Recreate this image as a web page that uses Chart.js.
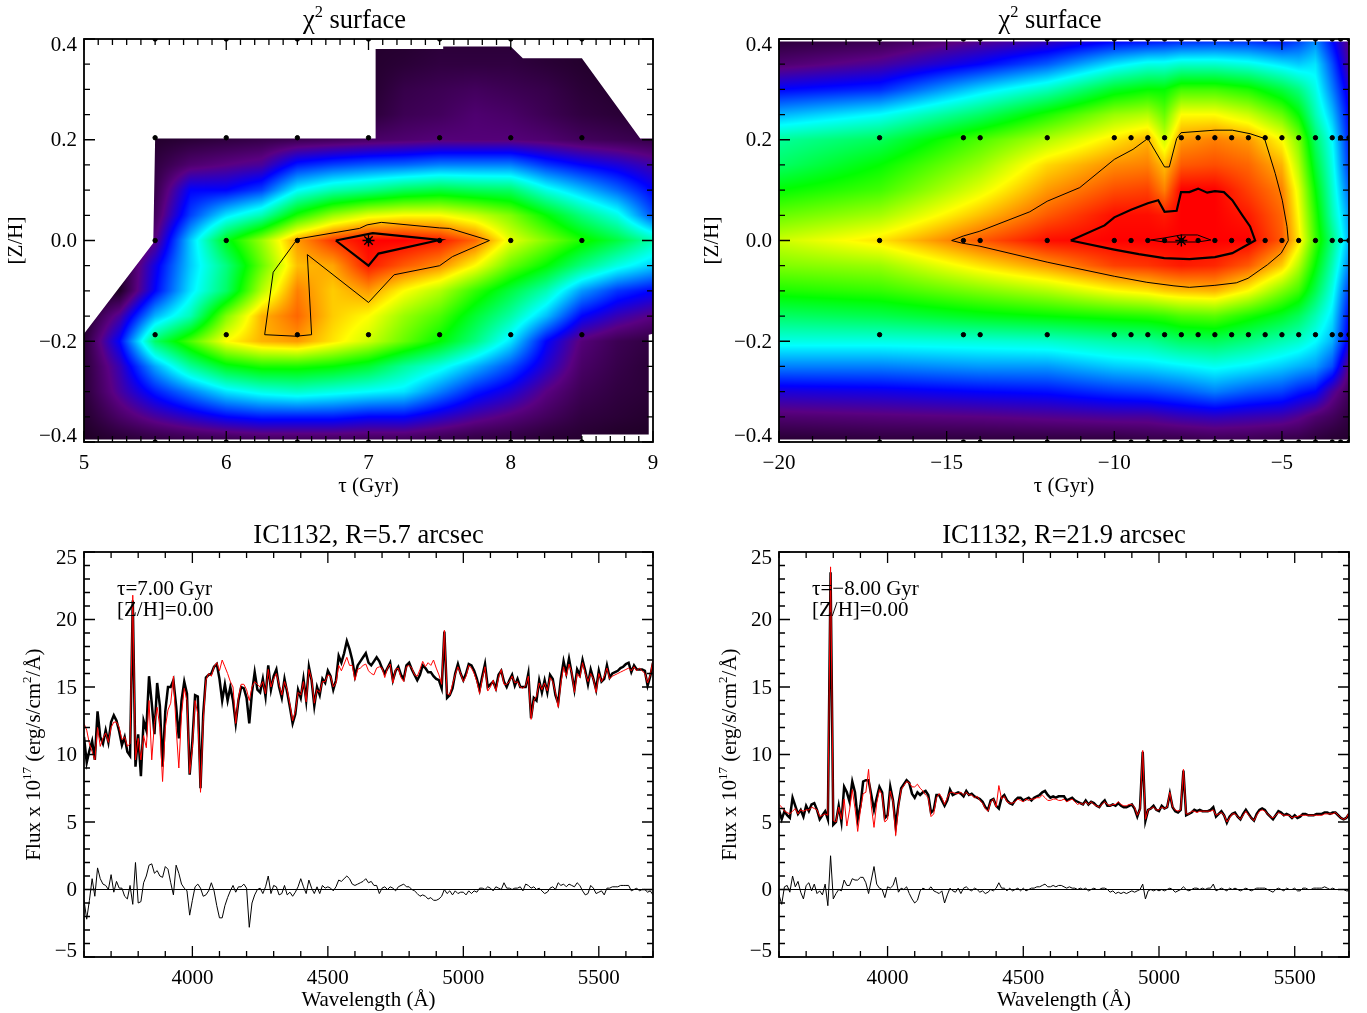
<!DOCTYPE html>
<html>
<head>
<meta charset="utf-8">
<title>IC1132 chi2 surfaces and spectra</title>
<script src="https://cdn.jsdelivr.net/npm/chart.js@4"></script>
<style>
    html, body { margin: 0; padding: 0; background: #fff; }
    canvas { position: absolute; }
</style>
</head>
<body>
<canvas id="chiLeft" width="696" height="499" style="left:0;top:0"></canvas>
<canvas id="chiRight" width="671" height="499" style="left:696px;top:0"></canvas>
<canvas id="specLeft" width="696" height="507" style="left:0;top:506px"></canvas>
<canvas id="specRight" width="671" height="507" style="left:696px;top:506px"></canvas>
<script>
// ........................... chi2 surface, left panel ...........................
const zhRows = [0.4, 0.35, 0.3, 0.25, 0.2, 0.15, 0.1, 0.05, 0, -0.05, -0.1, -0.15, -0.2, -0.25, -0.3, -0.35, -0.4];
const tauLeft = [5, 5.25, 5.5, 5.75, 6, 6.25, 6.5, 6.75, 7, 7.25, 7.5, 7.75, 8, 8.25, 8.5, 8.75, 9];
// one row per zhRows entry, one value per tauLeft entry
const surfaceLeft = [
    [0, 0, 0, 0, 0, 0, 0, 0, 0.01, 0.01, 0.02, 0.02, 0.02, 0.01, 0.01, 0, 0],
    [0, 0, 0, 0, 0, 0, 0, 0, 0.01, 0.02, 0.03, 0.03, 0.03, 0.02, 0.01, 0, 0],
    [0, 0, 0, 0, 0, 0, 0, 0, 0.01, 0.04, 0.05, 0.06, 0.05, 0.04, 0.02, 0.01, 0],
    [0, 0, 0, 0, 0, 0, 0, 0, 0.02, 0.05, 0.06, 0.08, 0.07, 0.05, 0.03, 0.02, 0.01],
    [0, 0, 0.01, 0.02, 0.03, 0.04, 0.05, 0.06, 0.07, 0.08, 0.09, 0.09, 0.09, 0.08, 0.06, 0.05, 0.04],
    [0, 0, 0.03, 0.08, 0.1, 0.12, 0.22, 0.25, 0.27, 0.28, 0.3, 0.3, 0.3, 0.24, 0.2, 0.17, 0.13],
    [0, 0, 0.04, 0.2, 0.2, 0.25, 0.4, 0.46, 0.49, 0.53, 0.55, 0.53, 0.52, 0.42, 0.35, 0.28, 0.2],
    [0, 0, 0.06, 0.25, 0.38, 0.46, 0.62, 0.72, 0.78, 0.8, 0.8, 0.76, 0.7, 0.6, 0.5, 0.42, 0.26],
    [0, 0, 0.1, 0.36, 0.58, 0.72, 0.88, 0.96, 1, 1, 0.98, 0.92, 0.78, 0.7, 0.62, 0.55, 0.46],
    [0, 0, 0.18, 0.36, 0.5, 0.68, 0.85, 0.87, 0.98, 0.93, 0.89, 0.8, 0.68, 0.6, 0.5, 0.42, 0.36],
    [0, 0, 0.2, 0.38, 0.52, 0.74, 0.9, 0.84, 0.88, 0.8, 0.74, 0.64, 0.55, 0.46, 0.32, 0.24, 0.2],
    [0, 0.12, 0.34, 0.46, 0.7, 0.86, 0.92, 0.84, 0.8, 0.72, 0.66, 0.56, 0.47, 0.35, 0.2, 0.14, 0.1],
    [0.02, 0.2, 0.52, 0.66, 0.8, 0.86, 0.88, 0.82, 0.76, 0.68, 0.6, 0.5, 0.38, 0.2, 0.09, 0.05, 0.03],
    [0.02, 0.14, 0.33, 0.48, 0.58, 0.62, 0.62, 0.6, 0.56, 0.48, 0.42, 0.34, 0.26, 0.16, 0.07, 0.04, 0.02],
    [0.02, 0.12, 0.22, 0.3, 0.38, 0.42, 0.44, 0.42, 0.4, 0.38, 0.3, 0.22, 0.17, 0.1, 0.05, 0.03, 0.02],
    [0.01, 0.07, 0.12, 0.16, 0.2, 0.22, 0.22, 0.22, 0.2, 0.2, 0.16, 0.12, 0.09, 0.06, 0.03, 0.02, 0.01],
    [0, 0.01, 0.02, 0.03, 0.03, 0.04, 0.04, 0.04, 0.04, 0.04, 0.03, 0.02, 0.02, 0.01, 0.01, 0, 0]
];
// outline of the area that has models
const maskLeftTau = [7.05, 7.525, 7.525, 8, 8.085, 8.5, 8.91, 9, 9, 8.97, 8.97, 8.5, 8.5, 5, 5, 5.487, 5.5, 7.05];
const maskLeftZh = [0.38, 0.38, 0.385, 0.385, 0.362, 0.362, 0.2025, 0.2025, -0.185, -0.187, -0.385, -0.385, -0.395, -0.395, -0.185, -0.005, 0.2025, 0.2025];
const gridTauLeft = [5.5, 6, 6.5, 7, 7.5, 8, 8.5];
const gridZhLeft = [0.4, 0.204, 0, -0.187, -0.4];
const outerLeftTau = [6.5, 6.937, 6.99, 7.09, 7.5, 7.57, 7.85, 7.59, 7.5, 7.18, 7, 6.57, 6.6, 6.49, 6.27, 6.33, 6.5];
const outerLeftZh = [0.003, 0.024, 0.031, 0.036, 0.025, 0.024, 0, -0.032, -0.05, -0.068, -0.123, -0.028, -0.187, -0.19, -0.187, -0.063, 0.003];
const innerLeftTau = [6.77, 7.03, 7.5, 7.07, 7, 6.77];
const innerLeftZh = [0, 0.0145, 0.001, -0.026, -0.05, 0];
const bestLeft = [7, 0];

// ........................... chi2 surface, right panel ...........................
const tauRight = [-20, -17, -14, -12, -10, -9, -8.5, -8, -7, -6, -5, -4.5, -4, -3.5, -3];
// one column per tauRight entry, one value per zhRows entry
const surfaceRightCols = [
    [0.02, 0.08, 0.2, 0.34, 0.48, 0.52, 0.6, 0.68, 0.76, 0.7, 0.62, 0.52, 0.42, 0.3, 0.17, 0.08, 0.01],
    [0.04, 0.12, 0.23, 0.4, 0.53, 0.6, 0.65, 0.73, 0.82, 0.72, 0.64, 0.54, 0.42, 0.3, 0.18, 0.09, 0.02],
    [0.1, 0.2, 0.37, 0.52, 0.66, 0.72, 0.78, 0.85, 0.93, 0.82, 0.7, 0.58, 0.43, 0.32, 0.2, 0.1, 0.02],
    [0.13, 0.27, 0.45, 0.62, 0.74, 0.83, 0.88, 0.93, 0.99, 0.88, 0.74, 0.6, 0.44, 0.32, 0.21, 0.11, 0.02],
    [0.18, 0.38, 0.57, 0.72, 0.82, 0.89, 0.94, 0.99, 1, 0.95, 0.8, 0.62, 0.47, 0.36, 0.24, 0.12, 0.02],
    [0.19, 0.42, 0.6, 0.74, 0.86, 0.9, 0.95, 0.99, 1, 0.96, 0.82, 0.63, 0.48, 0.37, 0.25, 0.12, 0.03],
    [0.2, 0.42, 0.6, 0.68, 0.76, 0.85, 0.9, 0.98, 1, 0.97, 0.84, 0.64, 0.5, 0.38, 0.26, 0.13, 0.03],
    [0.21, 0.44, 0.65, 0.8, 0.88, 0.93, 1, 1, 1, 0.98, 0.85, 0.66, 0.52, 0.39, 0.27, 0.14, 0.03],
    [0.22, 0.44, 0.65, 0.8, 0.9, 0.94, 1, 1, 1, 0.97, 0.86, 0.67, 0.53, 0.41, 0.3, 0.15, 0.04],
    [0.22, 0.42, 0.62, 0.76, 0.88, 0.92, 0.95, 0.98, 1, 0.93, 0.8, 0.62, 0.5, 0.39, 0.27, 0.14, 0.04],
    [0.2, 0.38, 0.55, 0.68, 0.8, 0.86, 0.9, 0.92, 0.93, 0.84, 0.7, 0.57, 0.46, 0.36, 0.25, 0.13, 0.03],
    [0.24, 0.36, 0.5, 0.6, 0.7, 0.74, 0.78, 0.8, 0.82, 0.74, 0.65, 0.53, 0.44, 0.34, 0.22, 0.11, 0.03],
    [0.3, 0.38, 0.42, 0.46, 0.52, 0.56, 0.6, 0.63, 0.65, 0.6, 0.54, 0.46, 0.4, 0.32, 0.2, 0.08, 0.02],
    [0.2, 0.26, 0.3, 0.35, 0.4, 0.42, 0.44, 0.46, 0.5, 0.46, 0.42, 0.38, 0.34, 0.26, 0.12, 0.06, 0.01],
    [0.1, 0.12, 0.17, 0.2, 0.22, 0.24, 0.28, 0.32, 0.34, 0.3, 0.24, 0.2, 0.18, 0.1, 0.06, 0.03, 0.01]
];
const maskRightTau = [-20, -3, -3, -20, -20];
const maskRightZh = [0.395, 0.395, -0.395, -0.395, 0.395];
const gridTauRight = [-17, -14.5, -14, -12, -10, -9.5, -9, -8.5, -8, -7.5, -7, -6.5, -6, -5.5, -5, -4.5, -4, -3.5, -3.25, -3];
const gridZhRight = [0.4, 0.204, 0, -0.187, -0.4];
const outerRightTau = [-14.85, -14.5, -14.03, -12.52, -12, -11.03, -10, -9.44, -9, -8.5, -8.36, -8.14, -8.01, -7, -6.48, -5.95, -5.52, -5.2, -4.99, -4.85, -4.81, -5.02, -5.43, -6.01, -6.36, -7, -7.76, -8.22, -9.03, -10, -12, -14.03, -14.56, -14.85];
const outerRightZh = [0, 0.009, 0.018, 0.057, 0.078, 0.105, 0.161, 0.181, 0.2025, 0.146, 0.146, 0.2025, 0.214, 0.219, 0.219, 0.212, 0.2025, 0.133, 0.08, 0.028, 0, -0.025, -0.048, -0.075, -0.084, -0.089, -0.093, -0.09, -0.083, -0.071, -0.043, -0.011, -0.005, 0];
const innerRightTau = [-11.3, -10.29, -10, -9.5, -9, -8.69, -8.5, -8.14, -8.01, -7.76, -7.5, -7.23, -7, -6.73, -6.48, -6.19, -5.95, -5.8, -6.48, -7, -7.76, -8.51, -9.27, -10, -11.3];
const innerRightZh = [0, 0.03, 0.046, 0.061, 0.074, 0.08, 0.057, 0.059, 0.096, 0.096, 0.103, 0.095, 0.098, 0.096, 0.08, 0.051, 0.028, 0, -0.025, -0.033, -0.037, -0.035, -0.027, -0.018, 0];
const coreRightTau = [-8.92, -8.51, -8.01, -7.52, -7.12, -7.52, -8.51, -8.92];
const coreRightZh = [0.001, 0.005, 0.011, 0.011, 0.001, -0.003, -0.003, 0.001];
const bestRight = [-8, 0];

// ........................... tick labels ...........................
const tauTicksLeft = [5, 6, 7, 8, 9];
const tauTicksRight = [-20, -15, -10, -5];
const zhTicks = [-0.4, -0.2, 0, 0.2, 0.4];
const waveTicks = [4000, 4500, 5000, 5500];
const fluxTicks = [-5, 0, 5, 10, 15, 20, 25];

// ........................... spectra, one line per 100 A ...........................
const wavelength = [
    3600, 3610, 3620, 3630, 3640, 3650, 3660, 3670, 3680, 3690,
    3700, 3710, 3720, 3730, 3740, 3750, 3760, 3770, 3780, 3790,
    3800, 3810, 3820, 3830, 3840, 3850, 3860, 3870, 3880, 3890,
    3900, 3910, 3920, 3930, 3940, 3950, 3960, 3970, 3980, 3990,
    4000, 4010, 4020, 4030, 4040, 4050, 4060, 4070, 4080, 4090,
    4100, 4110, 4120, 4130, 4140, 4150, 4160, 4170, 4180, 4190,
    4200, 4210, 4220, 4230, 4240, 4250, 4260, 4270, 4280, 4290,
    4300, 4310, 4320, 4330, 4340, 4350, 4360, 4370, 4380, 4390,
    4400, 4410, 4420, 4430, 4440, 4450, 4460, 4470, 4480, 4490,
    4500, 4510, 4520, 4530, 4540, 4550, 4560, 4570, 4580, 4590,
    4600, 4610, 4620, 4630, 4640, 4650, 4660, 4670, 4680, 4690,
    4700, 4710, 4720, 4730, 4740, 4750, 4760, 4770, 4780, 4790,
    4800, 4810, 4820, 4830, 4840, 4850, 4860, 4870, 4880, 4890,
    4900, 4910, 4920, 4930, 4940, 4950, 4960, 4970, 4980, 4990,
    5000, 5010, 5020, 5030, 5040, 5050, 5060, 5070, 5080, 5090,
    5100, 5110, 5120, 5130, 5140, 5150, 5160, 5170, 5180, 5190,
    5200, 5210, 5220, 5230, 5240, 5250, 5260, 5270, 5280, 5290,
    5300, 5310, 5320, 5330, 5340, 5350, 5360, 5370, 5380, 5390,
    5400, 5410, 5420, 5430, 5440, 5450, 5460, 5470, 5480, 5490,
    5500, 5510, 5520, 5530, 5540, 5550, 5560, 5570, 5580, 5590,
    5600, 5610, 5620, 5630, 5640, 5650, 5660, 5670, 5680, 5690,
    5700
];
const observedLeft = [
    11.3, 9.4, 10.3, 11.0, 9.6, 13.2, 11.3, 10.8, 11.8, 10.9,
    12.4, 12.9, 12.5, 11.7, 10.7, 11.3, 10.2, 9.9, 21.4, 9.1,
    11.5, 8.4, 12.5, 11.8, 15.8, 13.8, 11.5, 15.3, 13.6, 9.1,
    13.2, 15.0, 15.0, 15.5, 13.6, 11.2, 14.0, 15.4, 14.5, 8.5,
    11.0, 14.4, 14.3, 7.5, 13.0, 15.7, 15.9, 16.0, 16.5, 16.7,
    15.6, 14.0, 15.2, 14.0, 15.0, 14.0, 12.3, 14.0, 15.0, 14.9,
    14.2, 12.3, 14.6, 16.1, 14.8, 14.6, 15.6, 14.3, 16.6, 14.8,
    15.8, 16.3, 15.0, 14.2, 15.6, 14.6, 13.5, 12.3, 13.0, 14.8,
    14.2, 15.6, 14.0, 16.5, 15.5, 13.6, 15.0, 14.4, 15.6, 15.3,
    16.2, 15.8, 14.8, 15.5, 17.3, 16.8, 17.5, 18.4, 17.8, 17.0,
    15.8, 16.6, 16.9, 17.2, 17.5, 16.8, 16.6, 16.9, 17.2, 16.9,
    16.4, 16.0, 16.4, 16.8, 15.5, 16.2, 16.5, 15.9, 15.6, 16.6,
    16.8, 16.3, 15.9, 15.5, 15.9, 16.6, 16.4, 16.1, 16.1, 15.8,
    15.6, 15.5, 14.9, 19.1, 14.2, 14.4, 14.9, 16.0, 16.7, 16.0,
    15.5, 16.0, 16.7, 16.6, 16.2, 15.6, 14.8, 15.8, 16.7, 15.0,
    15.2, 15.4, 14.9, 15.9, 16.2, 15.4, 15.0, 15.5, 15.9, 15.1,
    15.6, 15.0, 15.0, 15.0, 16.0, 12.7, 14.2, 14.0, 15.5, 14.6,
    15.5, 14.6, 15.9, 15.6, 14.4, 13.8, 15.6, 16.9, 16.0, 17.1,
    16.0, 14.8, 16.3, 15.9, 17.0, 16.2, 15.2, 16.3, 15.6, 14.8,
    16.2, 15.4, 15.6, 16.6, 15.7, 16.0, 16.1, 16.2, 16.4, 16.5,
    16.7, 16.8, 16.1, 16.6, 16.3, 16.3, 16.3, 16.2, 15.1, 15.8,
    16.8
];
const modelLeft = [
    12.3, 11.8, 10.8, 10.2, 9.6, 12.0, 10.6, 11.2, 11.6, 10.9,
    12.0, 12.4, 12.4, 12.0, 11.1, 11.3, 10.6, 10.8, 21.8, 9.6,
    11.2, 9.6, 11.4, 10.5, 14.0, 9.6, 12.3, 13.5, 12.0, 8.0,
    12.0, 13.3, 13.8, 15.8, 12.0, 9.0, 13.0, 14.9, 14.0, 8.6,
    10.5, 14.0, 13.0, 7.2, 12.5, 15.5, 16.0, 15.8, 16.5, 16.8,
    16.2, 17.0, 16.5, 16.0, 15.4, 15.0, 12.3, 14.2, 15.2, 15.2,
    14.8, 14.0, 15.0, 15.4, 15.2, 15.0, 15.4, 14.5, 16.3, 15.0,
    15.6, 16.0, 15.2, 14.4, 15.4, 14.8, 13.7, 12.5, 13.2, 14.6,
    14.4, 15.4, 13.9, 16.3, 15.6, 13.8, 14.8, 14.6, 15.4, 15.4,
    15.9, 15.8, 15.0, 15.3, 16.6, 16.2, 16.7, 17.2, 16.6, 16.6,
    15.5, 16.3, 16.4, 16.6, 16.7, 16.2, 16.0, 15.9, 16.4, 16.5,
    16.4, 15.7, 16.4, 16.7, 15.3, 16.3, 16.4, 15.7, 15.4, 16.5,
    16.6, 16.4, 15.9, 15.8, 16.3, 16.9, 16.5, 16.8, 16.6, 17.0,
    16.4, 15.9, 15.2, 19.2, 14.5, 14.4, 15.2, 15.9, 16.5, 16.0,
    15.4, 15.8, 16.6, 16.4, 16.0, 15.4, 14.5, 15.6, 16.5, 14.7,
    15.0, 15.5, 14.7, 15.7, 16.3, 15.2, 15.2, 15.4, 15.8, 15.3,
    15.4, 15.0, 14.9, 15.1, 15.8, 12.6, 14.0, 14.3, 15.3, 14.8,
    15.3, 14.7, 15.7, 15.4, 14.6, 13.5, 15.3, 16.5, 15.8, 16.7,
    16.1, 14.6, 16.0, 15.7, 16.8, 16.0, 15.4, 16.0, 15.6, 14.6,
    16.0, 15.4, 15.8, 16.4, 15.6, 15.8, 15.9, 16.0, 16.1, 16.2,
    16.3, 16.4, 16.2, 16.5, 16.2, 16.4, 16.2, 16.0, 15.3, 15.9,
    17.0
];
const residualLeft = [
    -0.8, -2.2, -0.8, 0.8, -0.5, 1.6, 0.8, 0.4, 0.3, 0.0,
    1.1, -0.2, 0.6, 0.1, 0.1, -0.5, -0.7, 0.3, -1.1, 2.0,
    -1.0, -0.9, 0.5, 1.0, 1.8, 1.9, 1.2, 1.4, 1.0, 0.9,
    1.7, 1.5, 0.5, -0.4, 1.8, 1.2, 0.4, 0.1, -0.1, -1.9,
    -0.8, 0.2, 0.4, 0.1, -0.5, -0.4, -0.1, 0.5, -0.1, -1.2,
    -2.1, -2.1, -1.2, -0.6, -0.1, 0.3, -0.2, 0.2, 0.2, 0.4,
    0.1, -2.8, -1.0, -0.4, 0.0, 0.1, -0.3, 0.2, 1.0, -0.3,
    0.3, 0.2, -0.4, -0.3, 0.3, -0.4, -0.2, -0.5, -0.2, 0.2,
    0.8, 0.2, -0.3, 0.7, 0.1, -0.3, 0.2, -0.3, 0.3, 0.1,
    0.2, 0.1, -0.1, 0.2, 0.7, 0.6, 0.8, 1.0, 0.8, 0.4,
    0.3, 0.4, 0.5, 0.6, 0.8, 0.5, 0.6, 0.3, 0.3, -0.3,
    0.1, 0.2, 0.0, 0.2, 0.1, -0.1, 0.2, 0.3, 0.4, 0.2,
    0.2, 0.0, -0.1, -0.3, -0.5, -0.4, -0.5, -0.7, -0.6, -0.8,
    -0.8, -0.7, -0.5, 0.0, -0.3, -0.1, -0.4, -0.1, -0.3, -0.2,
    -0.2, -0.4, -0.1, -0.3, -0.1, -0.2, 0.1, 0.1, 0.0, 0.2,
    0.1, -0.1, 0.2, 0.1, 0.0, 0.5, 0.1, 0.1, 0.0, 0.1,
    0.1, 0.2, -0.1, 0.4, 0.3, 0.1, 0.2, 0.0, 0.1, -0.1,
    -0.3, -0.2, 0.1, 0.2, 0.0, 0.5, 0.3, 0.4, 0.2, 0.4,
    0.3, 0.2, 0.5, 0.3, -0.1, -0.4, -0.3, 0.3, 0.1, -0.3,
    -0.2, -0.1, -0.4, 0.1, 0.1, 0.2, 0.2, 0.2, 0.3, 0.3,
    0.3, 0.3, -0.1, 0.0, 0.1, -0.1, 0.0, 0.0, -0.2, -0.1,
    -0.4
];
const observedRight = [
    5.9, 5.2, 5.8, 5.5, 5.3, 6.8, 6.2, 5.6, 5.9, 5.4,
    6.2, 5.8, 6.3, 6.4, 5.9, 5.2, 5.5, 5.8, 5.2, 23.5,
    4.8, 5.0, 6.2, 5.0, 7.6, 7.2, 6.5, 8.0, 7.2, 5.2,
    6.2, 8.0, 8.1, 8.1, 7.0, 5.9, 6.8, 7.6, 7.2, 5.3,
    5.5, 7.6, 6.6, 4.7, 6.3, 7.5, 7.8, 8.1, 7.9, 7.1,
    6.8, 7.2, 7.0, 7.2, 7.3, 7.0, 5.7, 5.9, 7.0, 7.0,
    6.6, 6.2, 6.6, 7.4, 7.0, 7.1, 7.2, 7.1, 6.9, 7.3,
    7.0, 7.1, 6.9, 6.8, 6.7, 6.5, 6.1, 5.9, 6.6, 6.7,
    6.2, 6.0, 6.8, 7.0, 6.6, 6.4, 6.3, 6.6, 6.8, 6.8,
    6.6, 6.7, 6.8, 6.6, 6.8, 6.9, 7.0, 7.2, 7.3, 7.0,
    6.8, 6.9, 6.8, 6.9, 6.9, 6.9, 6.6, 6.7, 6.8, 6.6,
    6.5, 6.4, 6.3, 6.6, 6.3, 6.5, 6.4, 6.2, 6.1, 6.4,
    6.6, 6.2, 6.2, 6.3, 6.2, 6.4, 6.2, 6.1, 6.1, 6.2,
    6.3, 6.0, 5.4, 6.0, 10.2, 5.1, 5.9, 6.0, 6.2, 5.9,
    5.8, 6.2, 6.0, 6.1, 7.1, 6.1, 5.8, 5.7, 5.9, 8.8,
    5.5, 5.6, 5.7, 5.9, 5.8, 5.9, 5.8, 5.8, 5.8, 5.9,
    6.1, 5.4, 5.6, 5.8, 5.5, 4.95, 5.4, 5.6, 5.7, 5.4,
    5.2, 5.6, 5.9, 5.6, 5.3, 5.1, 5.6, 5.9, 6.0, 5.9,
    5.6, 5.4, 5.2, 5.5, 5.8, 5.7, 5.5, 5.6, 5.5, 5.3,
    5.5, 5.3, 5.4, 5.6, 5.6, 5.5, 5.5, 5.5, 5.6, 5.6,
    5.6, 5.7, 5.7, 5.6, 5.7, 5.7, 5.5, 5.3, 5.2, 5.3,
    5.6
];
const modelRight = [
    6.3, 6.1, 5.8, 5.7, 5.6, 5.8, 6.0, 5.6, 5.9, 5.8,
    5.9, 5.9, 6.1, 6.0, 5.9, 5.4, 5.5, 5.6, 5.5, 23.9,
    5.1, 5.0, 6.1, 5.2, 6.7, 4.7, 5.9, 7.4, 6.0, 4.3,
    5.9, 7.1, 7.2, 8.9, 6.2, 4.6, 6.4, 7.4, 7.0, 5.0,
    5.2, 7.3, 6.5, 4.0, 6.1, 7.4, 7.7, 8.0, 7.9, 7.6,
    7.6, 7.8, 7.5, 7.3, 7.0, 6.8, 5.4, 5.6, 6.8, 7.1,
    6.8, 6.3, 6.8, 7.2, 7.2, 7.1, 7.1, 7.2, 7.0, 7.2,
    7.0, 7.0, 6.8, 6.9, 6.6, 6.4, 6.0, 5.8, 6.5, 6.7,
    6.1, 7.7, 6.7, 6.9, 6.5, 6.4, 6.4, 6.5, 6.7, 6.6,
    6.5, 6.7, 6.6, 6.7, 6.7, 6.8, 6.8, 7.0, 6.8, 6.6,
    6.6, 6.7, 6.7, 6.6, 6.6, 6.7, 6.5, 6.6, 6.7, 6.5,
    6.3, 6.4, 6.3, 6.5, 6.3, 6.5, 6.3, 6.2, 6.1, 6.3,
    6.5, 6.3, 6.2, 6.3, 6.3, 6.5, 6.3, 6.2, 6.2, 6.3,
    6.3, 6.1, 5.5, 5.9, 10.3, 5.2, 5.9, 6.0, 6.1, 5.9,
    5.9, 6.1, 6.0, 6.1, 7.2, 6.1, 5.9, 5.8, 5.9, 8.9,
    5.6, 5.6, 5.8, 5.8, 5.7, 5.8, 5.8, 5.8, 5.8, 5.8,
    5.9, 5.5, 5.6, 5.7, 5.5, 5.0, 5.3, 5.6, 5.6, 5.4,
    5.2, 5.5, 5.8, 5.5, 5.3, 5.1, 5.5, 5.8, 5.9, 5.8,
    5.6, 5.4, 5.3, 5.5, 5.7, 5.6, 5.5, 5.5, 5.5, 5.3,
    5.4, 5.4, 5.5, 5.5, 5.5, 5.5, 5.5, 5.5, 5.5, 5.5,
    5.5, 5.6, 5.6, 5.6, 5.6, 5.7, 5.5, 5.3, 5.2, 5.3,
    5.7
];
const residualRight = [
    -0.4, -1.1, 0.2, 0.3, -0.2, 1.0, 0.2, 0.6, -0.2, -0.7,
    0.3, 0.5, -0.1, 0.4, -0.3, -0.1, -0.4, 0.4, -1.2, 2.5,
    -0.7, -0.3, 0.0, -0.1, 0.7, 0.3, 0.3, 0.8, 0.7, 0.7,
    0.9, 0.9, 0.5, -0.3, 0.7, 1.7, 0.4, 0.1, 0.0, -0.6,
    0.2, 0.1, 0.3, 0.9, -0.2, 0.1, 0.0, 0.2, -0.3, -0.7,
    -1.0, -0.8, -0.1, 0.1, 0.0, 0.0, 0.2, -0.1, -0.2, -0.3,
    -0.1, -1.0, -0.4, 0.1, -0.1, -0.2, 0.1, -0.3, 0.1, 0.2,
    0.0, -0.1, 0.1, 0.0, -0.2, -0.1, -0.3, -0.2, 0.0, -0.1,
    0.1, 0.5, 0.1, 0.1, -0.1, 0.1, -0.1, 0.0, 0.1, -0.1,
    0.1, -0.1, 0.0, 0.1, 0.1, 0.2, 0.2, 0.3, 0.4, 0.2,
    0.2, 0.3, 0.2, 0.3, 0.3, 0.2, 0.1, 0.2, 0.1, 0.1,
    0.0, 0.1, 0.0, 0.1, -0.1, 0.0, 0.1, 0.0, 0.0, 0.1,
    0.1, 0.0, -0.2, -0.1, -0.3, -0.2, -0.3, -0.2, -0.3, -0.2,
    -0.1, -0.2, -0.1, 0.0, 0.4, -0.7, -0.1, 0.0, -0.1, 0.0,
    -0.1, 0.0, -0.1, 0.0, 0.1, 0.0, -0.2, -0.1, 0.0, 0.2,
    0.0, -0.1, 0.0, 0.1, 0.1, 0.0, 0.1, 0.0, 0.1, 0.1,
    0.4, -0.1, 0.0, 0.1, 0.0, -0.1, 0.1, 0.0, 0.1, 0.0,
    -0.1, 0.0, 0.1, 0.0, -0.1, 0.0, 0.1, 0.1, 0.1, 0.1,
    0.0, -0.1, -0.2, 0.0, 0.1, 0.0, -0.1, 0.1, 0.0, 0.0,
    0.1, -0.1, -0.1, 0.1, 0.1, 0.0, 0.0, 0.1, 0.1, 0.1,
    0.1, 0.2, 0.1, 0.0, 0.1, 0.0, 0.0, 0.0, 0.0, -0.1,
    -0.1
];
const zeroLineX = [3600, 5700];
const zeroLineY = [0, 0];

const FONT = "'Liberation Serif', serif";
// colour stops of the surface, value -> rgb
const colourStops = [
    [0, 30, 0, 36], [0.1, 90, 0, 130], [0.2, 0, 0, 255], [0.4, 0, 255, 255],
    [0.6, 0, 255, 0], [0.8, 255, 255, 0], [1, 255, 0, 0]
];

function colourOf(v) {
    for (let i = 1; i < colourStops.length; i++) {
        if (v <= colourStops[i][0]) {
            const a = colourStops[i - 1], b = colourStops[i];
            const t = (v - a[0]) / (b[0] - a[0]);
            return [a[1] + (b[1] - a[1]) * t, a[2] + (b[2] - a[2]) * t, a[3] + (b[3] - a[3]) * t];
        }
    }
    return colourStops[colourStops.length - 1].slice(1);
}

function pairs(xs, ys) {
    return xs.map(function (x, i) { return { x: x, y: ys[i] }; });
}

function cross(xs, ys) {
    const out = [];
    ys.forEach(function (y) { xs.forEach(function (x) { out.push({ x: x, y: y }); }); });
    return out;
}

function bracket(list, v, descending) {
    let i = 0;
    while (i < list.length - 2 && (descending ? list[i + 1] > v : list[i + 1] < v)) i++;
    const t = (v - list[i]) / (list[i + 1] - list[i]);
    return [i, Math.max(0, Math.min(1, t))];
}

// paints the surface under the datasets, through the chart's own scales
function surfacePlugin(xs, ys, rows, maskX, maskY) {
    return {
        id: 'surface',
        beforeDatasetsDraw: function (chart) {
            const area = chart.chartArea, sx = chart.scales.x, sy = chart.scales.y;
            const w = Math.round(area.right - area.left), h = Math.round(area.bottom - area.top);
            const off = document.createElement('canvas');
            off.width = w; off.height = h;
            const octx = off.getContext('2d');
            const img = octx.createImageData(w, h);
            for (let py = 0; py < h; py++) {
                const b = bracket(ys, sy.getValueForPixel(area.top + py + 0.5), true);
                for (let px = 0; px < w; px++) {
                    const a = bracket(xs, sx.getValueForPixel(area.left + px + 0.5), false);
                    const r0 = rows[b[0]], r1 = rows[b[0] + 1];
                    const top = r0[a[0]] + (r0[a[0] + 1] - r0[a[0]]) * a[1];
                    const bot = r1[a[0]] + (r1[a[0] + 1] - r1[a[0]]) * a[1];
                    const c = colourOf(top + (bot - top) * b[1]);
                    const k = (py * w + px) * 4;
                    img.data[k] = c[0]; img.data[k + 1] = c[1]; img.data[k + 2] = c[2]; img.data[k + 3] = 255;
                }
            }
            octx.putImageData(img, 0, 0);
            const ctx = chart.ctx;
            ctx.save();
            ctx.beginPath();
            maskX.forEach(function (x, i) {
                const X = sx.getPixelForValue(x), Y = sy.getPixelForValue(maskY[i]);
                if (i === 0) ctx.moveTo(X, Y); else ctx.lineTo(X, Y);
            });
            ctx.closePath();
            ctx.clip();
            ctx.drawImage(off, area.left, area.top);
            ctx.restore();
        }
    };
}

// text made of runs, so that superscripts can be raised
function drawRuns(ctx, runs, x, y, size, rotated, align) {
    ctx.save();
    ctx.translate(x, y);
    if (rotated) ctx.rotate(-Math.PI / 2);
    ctx.fillStyle = '#000';
    ctx.textBaseline = 'alphabetic';
    ctx.textAlign = 'left';
    let total = 0;
    runs.forEach(function (r) {
        ctx.font = (r.sup ? size * 0.62 : size) + 'px ' + FONT;
        total += ctx.measureText(r.t).width;
    });
    let at = align === 'left' ? 0 : -total / 2;
    const base = size * 0.34;
    runs.forEach(function (r) {
        ctx.font = (r.sup ? size * 0.62 : size) + 'px ' + FONT;
        ctx.fillText(r.t, at, r.sup ? base - size * 0.42 : base);
        at += ctx.measureText(r.t).width;
    });
    ctx.restore();
}

// IDL style box: frame, ticks pointing inward on all sides, shifted end labels, texts
function boxPlugin(cfg) {
    return {
        id: 'box',
        afterDatasetsDraw: function (chart) {
            const ctx = chart.ctx, area = chart.chartArea, sx = chart.scales.x, sy = chart.scales.y;
            ctx.save();
            ctx.strokeStyle = '#000';
            ctx.lineWidth = 1.3;
            ctx.beginPath();
            const isMajor = function (v, step) { return Math.abs(v / step - Math.round(v / step)) < 1e-6; };
            for (let n = Math.ceil(sx.min / cfg.xMinor - 1e-6); n * cfg.xMinor <= sx.max + 1e-6; n++) {
                const v = n * cfg.xMinor, p = sx.getPixelForValue(v), len = isMajor(v, cfg.xMajor) ? 11 : 6;
                ctx.moveTo(p, area.bottom); ctx.lineTo(p, area.bottom - len);
                ctx.moveTo(p, area.top); ctx.lineTo(p, area.top + len);
            }
            for (let n = Math.ceil(sy.min / cfg.yMinor - 1e-6); n * cfg.yMinor <= sy.max + 1e-6; n++) {
                const v = n * cfg.yMinor, p = sy.getPixelForValue(v), len = isMajor(v, cfg.yMajor) ? 11 : 6;
                ctx.moveTo(area.left, p); ctx.lineTo(area.left + len, p);
                ctx.moveTo(area.right, p); ctx.lineTo(area.right - len, p);
            }
            ctx.stroke();
            ctx.lineWidth = 1.8;
            ctx.strokeRect(area.left, area.top, area.right - area.left, area.bottom - area.top);

            // end labels sit inside the axis range
            ctx.fillStyle = '#000';
            ctx.font = '21px ' + FONT;
            ctx.textAlign = 'right';
            ctx.textBaseline = 'middle';
            ctx.fillText(cfg.yFormat(sy.max), area.left - 7, sy.getPixelForValue(sy.max) + 6);
            ctx.fillText(cfg.yFormat(sy.min), area.left - 7, sy.getPixelForValue(sy.min) - 6);
            ctx.restore();

            drawRuns(ctx, cfg.title, (area.left + area.right) / 2 + cfg.titleShift, cfg.titleY, 26.5, false);
            if (cfg.yRuns) drawRuns(ctx, cfg.yRuns, 33, (area.top + area.bottom) / 2, 21, true);
            if (cfg.notes) {
                cfg.notes.forEach(function (line, i) {
                    drawRuns(ctx, [{ t: line }], area.left + 33, area.top + 36 + i * 21, 21, false, 'left');
                });
            }
        }
    };
}

function baseOptions(xr, yr, xTicks, yTicks, yFormat, xHeight, yWidth, topPad, rightPad, xTitle, yTitle) {
    return {
        responsive: false,
        animation: false,
        layout: { padding: { top: topPad, right: rightPad, left: 0, bottom: 0 } },
        plugins: { legend: { display: false }, tooltip: { enabled: false } },
        scales: {
            x: {
                type: 'linear', min: xr[0], max: xr[1],
                grid: { display: false, drawTicks: false }, border: { display: false },
                title: { display: true, text: xTitle, color: '#000', padding: 0, font: { family: FONT, size: 21 } },
                ticks: {
                    autoSkip: false, maxRotation: 0, color: '#000', padding: 9,
                    font: { family: FONT, size: 21 },
                    callback: function (v) { return String(v).replace('-', '\u2212'); }
                },
                afterBuildTicks: function (s) { s.ticks = xTicks.map(function (v) { return { value: v }; }); },
                afterFit: function (s) { s.height = xHeight; }
            },
            y: {
                type: 'linear', min: yr[0], max: yr[1],
                grid: { display: false, drawTicks: false }, border: { display: false },
                title: { display: !!yTitle, text: yTitle, color: '#000', padding: 4, font: { family: FONT, size: 21 } },
                ticks: {
                    autoSkip: false, color: '#000', padding: 7, labelOffset: 1,
                    font: { family: FONT, size: 21 },
                    // the two end labels are drawn by the box plugin
                    callback: function (v) { return (v === yr[0] || v === yr[1]) ? '' : yFormat(v); }
                },
                afterBuildTicks: function (s) { s.ticks = yTicks.map(function (v) { return { value: v }; }); },
                afterFit: function (s) { s.width = yWidth; }
            }
        }
    };
}

function zhLabel(v) { return v.toFixed(1).replace('-', '\u2212'); }
function fluxLabel(v) { return String(v).replace('-', '\u2212'); }

function contour(xs, ys, width) {
    return { data: pairs(xs, ys), showLine: true, borderColor: '#000', borderWidth: width, pointRadius: 0, tension: 0 };
}
function dots(xs, ys) {
    return { data: cross(xs, ys), backgroundColor: '#000', borderColor: '#000', pointRadius: 2.2, showLine: false };
}
function star(p) {
    return { data: [{ x: p[0], y: p[1] }], pointStyle: 'star', pointRadius: 6, borderColor: '#000', borderWidth: 1.4, showLine: false };
}
function spectrum(ys, colour, width) {
    return { data: pairs(wavelength, ys), showLine: true, borderColor: colour, borderWidth: width, pointRadius: 0, tension: 0 };
}

const chiTitle = [{ t: '\u03C7' }, { t: '2', sup: true }, { t: ' surface' }];
const fluxTitle = [{ t: 'Flux x 10' }, { t: '17', sup: true }, { t: ' (erg/s/cm' }, { t: '2', sup: true }, { t: '/\u00C5)' }];

new Chart(document.getElementById('chiLeft'), {
    type: 'scatter',
    data: {
        datasets: [
            star(bestLeft),
            contour(innerLeftTau, innerLeftZh, 2.2),
            contour(outerLeftTau, outerLeftZh, 1),
            dots(gridTauLeft, gridZhLeft)
        ]
    },
    options: baseOptions([5, 9], [-0.4, 0.4], tauTicksLeft, zhTicks, zhLabel, 57, 84, 39, 43, '\u03C4 (Gyr)', '[Z/H]'),
    plugins: [
        surfacePlugin(tauLeft, zhRows, surfaceLeft, maskLeftTau, maskLeftZh),
        boxPlugin({ xMajor: 1, xMinor: 0.1, yMajor: 0.2, yMinor: 0.05, yFormat: zhLabel, title: chiTitle, titleShift: -14, titleY: 19 })
    ]
});

const surfaceRight = zhRows.map(function (z, j) {
    return surfaceRightCols.map(function (col) { return col[j]; });
});

new Chart(document.getElementById('chiRight'), {
    type: 'scatter',
    data: {
        datasets: [
            star(bestRight),
            contour(coreRightTau, coreRightZh, 1),
            contour(innerRightTau, innerRightZh, 2.2),
            contour(outerRightTau, outerRightZh, 1),
            dots(gridTauRight, gridZhRight)
        ]
    },
    options: baseOptions([-20, -3], [-0.4, 0.4], tauTicksRight, zhTicks, zhLabel, 57, 83, 39, 18, '\u03C4 (Gyr)', '[Z/H]'),
    plugins: [
        surfacePlugin(tauRight, zhRows, surfaceRight, maskRightTau, maskRightZh),
        boxPlugin({ xMajor: 5, xMinor: 1, yMajor: 0.2, yMinor: 0.05, yFormat: zhLabel, title: chiTitle, titleShift: -14, titleY: 19 })
    ]
});

new Chart(document.getElementById('specLeft'), {
    type: 'scatter',
    data: {
        datasets: [
            spectrum(modelLeft, '#ff0000', 1),
            spectrum(observedLeft, '#000', 2.5),
            spectrum(residualLeft, '#000', 1),
            { data: pairs(zeroLineX, zeroLineY), showLine: true, borderColor: '#000', borderWidth: 1, pointRadius: 0 }
        ]
    },
    options: baseOptions([3600, 5700], [-5, 25], waveTicks, fluxTicks, fluxLabel, 56, 84, 46, 43, 'Wavelength (\u00C5)', ''),
    plugins: [
        boxPlugin({
            xMajor: 500, xMinor: 100, yMajor: 5, yMinor: 1, yFormat: fluxLabel,
            title: [{ t: 'IC1132, R=5.7 arcsec' }], titleShift: 0, titleY: 28,
            yRuns: fluxTitle, notes: ['\u03C4=7.00 Gyr', '[Z/H]=0.00']
        })
    ]
});

new Chart(document.getElementById('specRight'), {
    type: 'scatter',
    data: {
        datasets: [
            spectrum(modelRight, '#ff0000', 1),
            spectrum(observedRight, '#000', 2.5),
            spectrum(residualRight, '#000', 1),
            { data: pairs(zeroLineX, zeroLineY), showLine: true, borderColor: '#000', borderWidth: 1, pointRadius: 0 }
        ]
    },
    options: baseOptions([3600, 5700], [-5, 25], waveTicks, fluxTicks, fluxLabel, 56, 83, 46, 18, 'Wavelength (\u00C5)', ''),
    plugins: [
        boxPlugin({
            xMajor: 500, xMinor: 100, yMajor: 5, yMinor: 1, yFormat: fluxLabel,
            title: [{ t: 'IC1132, R=21.9 arcsec' }], titleShift: 0, titleY: 28,
            yRuns: fluxTitle, notes: ['\u03C4=\u22128.00 Gyr', '[Z/H]=0.00']
        })
    ]
});
</script>
</body>
</html>
